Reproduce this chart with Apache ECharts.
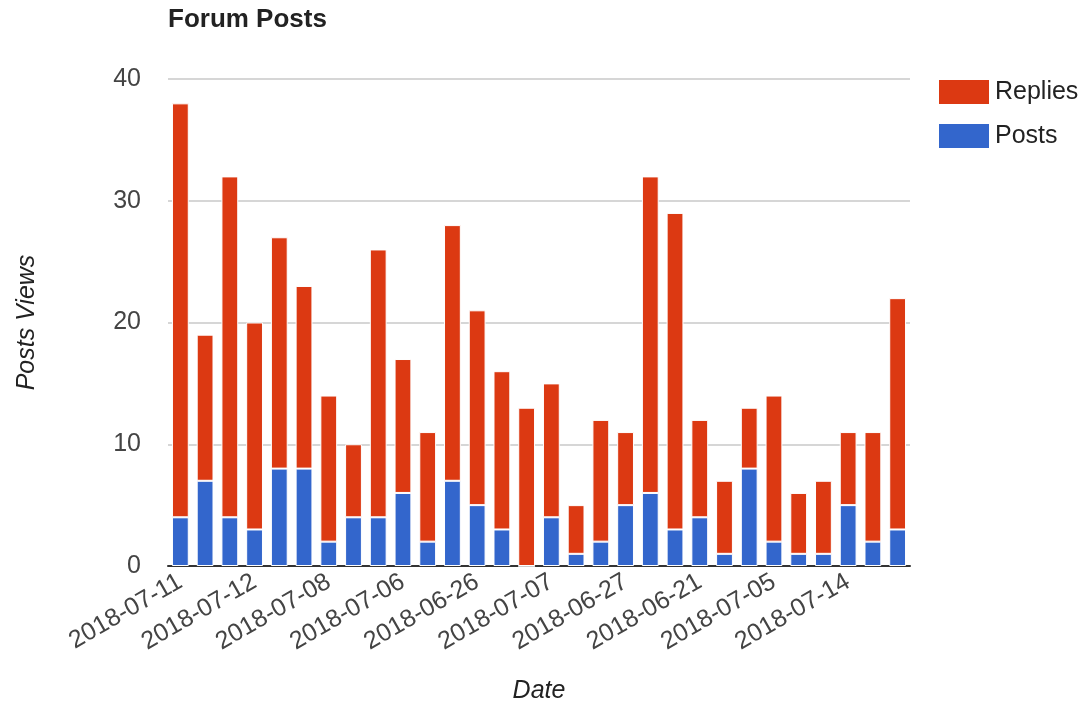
<!DOCTYPE html>
<html>
<head>
<meta charset="utf-8">
<script src="https://cdn.jsdelivr.net/npm/echarts@6/dist/echarts.min.js"></script>
<style>
html,body{margin:0;padding:0;background:#fff;}
#chart{width:1087px;height:709px;}
</style>
</head>
<body>
<div id="chart"></div>
<script>
const categories = [
  '2018-07-11','2018-07-10','2018-07-09','2018-07-12','2018-07-13','2018-07-03',
  '2018-07-08','2018-07-02','2018-06-29','2018-07-06','2018-06-28','2018-07-04',
  '2018-06-26','2018-06-25','2018-07-01','2018-07-07','2018-06-30','2018-06-22',
  '2018-06-27','2018-06-20','2018-06-19','2018-06-21','2018-06-18','2018-06-24',
  '2018-07-05','2018-06-23','2018-06-15','2018-07-14','2018-06-14','2018-07-15'
];
const posts   = [4,7,4,3,8,8,2,4,4,6,2,7,5,3,0,4,1,2,5,6,3,4,1,8,2,1,1,5,2,3];
const replies = [34,12,28,17,19,15,12,6,22,11,9,21,16,13,13,11,4,10,6,26,26,8,6,5,12,5,6,6,9,19];
const yTicks = { min: 0, max: 40, interval: 10 };

const FONT = 'Liberation Sans, Arial, sans-serif';
const chart = echarts.init(document.getElementById('chart'), null, { renderer: 'canvas' });
chart.setOption({
  animation: false,
  backgroundColor: '#fff',
  textStyle: { fontFamily: FONT },
  title: {
    text: 'Forum Posts',
    left: 168, top: 7, padding: 0,
    textStyle: { fontFamily: FONT, fontSize: 26, fontWeight: 'bold', color: '#222' }
  },
  legend: {
    data: ['Replies', 'Posts'],
    orient: 'vertical',
    left: 937, top: 78, padding: 0,
    itemWidth: 52, itemHeight: 26, itemGap: 16,
    textStyle: { fontFamily: FONT, fontSize: 25, color: '#222' },
    icon: 'rect'
  },
  grid: { left: 168, right: 177, top: 79, bottom: 137, containLabel: false },
  xAxis: {
    type: 'category',
    data: categories,
    name: 'Date',
    nameLocation: 'middle',
    nameGap: 113,
    nameTextStyle: { fontFamily: FONT, fontSize: 25, fontStyle: 'italic', color: '#222' },
    axisLine: { lineStyle: { color: '#333', width: 2 } },
    axisTick: { show: false },
    axisLabel: { interval: 2, rotate: 30, fontFamily: FONT, fontSize: 25, color: '#444', margin: 14 }
  },
  yAxis: {
    type: 'value',
    min: yTicks.min, max: yTicks.max, interval: yTicks.interval,
    name: 'Posts Views',
    nameLocation: 'middle',
    nameGap: 128,
    nameTextStyle: { fontFamily: FONT, fontSize: 25, fontStyle: 'italic', color: '#222' },
    axisLine: { show: false },
    axisTick: { show: false },
    axisLabel: { fontFamily: FONT, fontSize: 25, color: '#444', margin: 27 },
    splitLine: { lineStyle: { color: '#d6d6d6', width: 2 } }
  },
  series: [
    {
      name: 'Posts', type: 'bar', stack: 'total', data: posts,
      barWidth: '68%',
      itemStyle: { color: '#3366cc', borderColor: '#fff', borderWidth: 1 }
    },
    {
      name: 'Replies', type: 'bar', stack: 'total', data: replies,
      barWidth: '68%',
      itemStyle: { color: '#dc3912', borderColor: '#fff', borderWidth: 1 }
    }
  ]
});
</script>
</body>
</html>
